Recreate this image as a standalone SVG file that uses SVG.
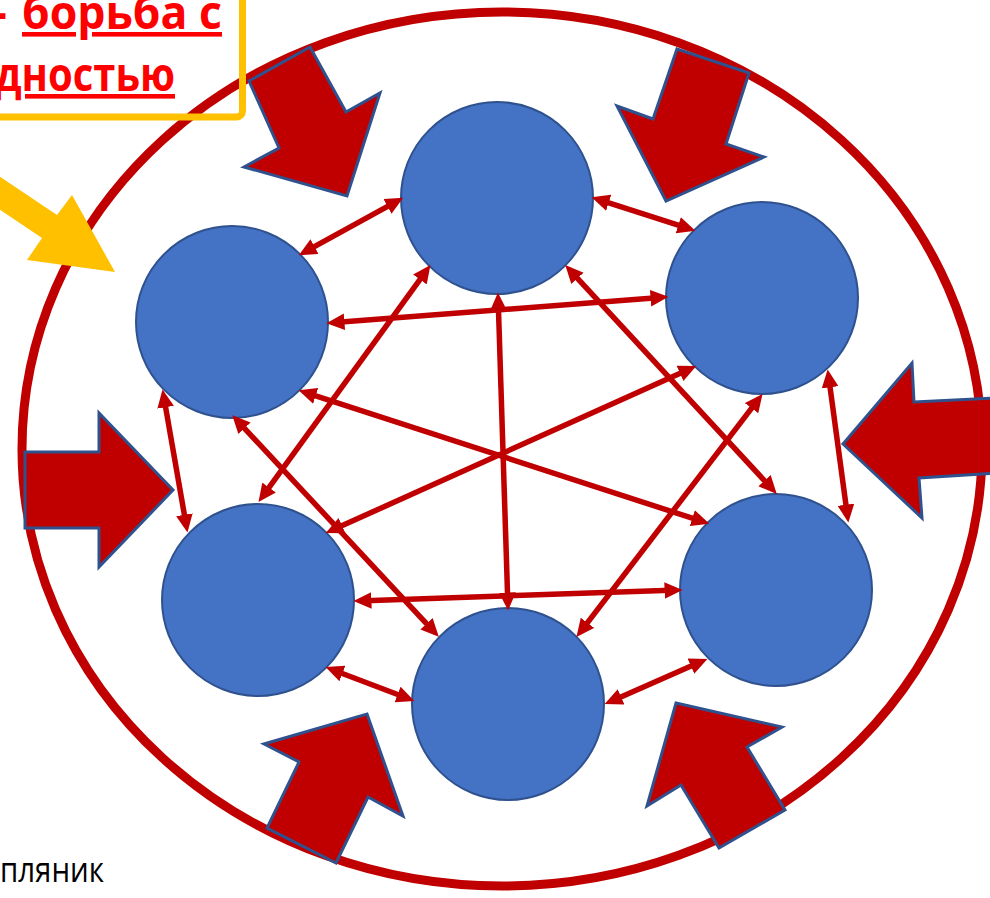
<svg xmlns="http://www.w3.org/2000/svg" width="990" height="898" viewBox="0 0 990 898">
<style>
.node{fill:#4472C4;stroke:#2F528F;stroke-width:2}
.con{stroke:#C00000;stroke-width:5.5;fill:none;marker-start:url(#ah);marker-end:url(#ah)}
.blk{fill:#C00000;stroke:#2F528F;stroke-width:3;stroke-linejoin:miter}
.t1{font-family:"Open Sans","Liberation Sans",Arial,sans-serif;font-weight:bold;font-size:46px;fill:#FF0000}
.u{text-decoration:underline}
.t2{font-family:"Open Sans","Liberation Sans",Arial,sans-serif;font-size:35px;fill:#000000}
</style>
<defs>
<marker id="ah" markerUnits="userSpaceOnUse" markerWidth="18" markerHeight="17" refX="5" refY="6.5" orient="auto-start-reverse" viewBox="0 0 14 13">
<path d="M0,0 L14,6.5 L0,13 z" fill="#C00000"/>
</marker>
</defs>
<rect width="990" height="898" fill="#FFFFFF"/>
<ellipse id="boundary" cx="502" cy="449" rx="480" ry="437" fill="none" stroke="#C00000" stroke-width="9"/>
<g id="n-top"><circle class="node" cx="497" cy="198" r="96"/></g>
<g id="n-ul"><circle class="node" cx="232" cy="322" r="96"/></g>
<g id="n-ur"><circle class="node" cx="762" cy="298" r="96"/></g>
<g id="n-ll"><circle class="node" cx="258" cy="600" r="96"/></g>
<g id="n-lr"><circle class="node" cx="776" cy="590" r="96"/></g>
<g id="n-bottom"><circle class="node" cx="508" cy="704" r="96"/></g>
<g id="connectors">
<line class="con" x1="393.1" y1="203.3" x2="308.9" y2="249.7"/>
<line class="con" x1="602.6" y1="200.8" x2="684.4" y2="227.2"/>
<line class="con" x1="338" y1="322.3" x2="657" y2="297.7"/>
<line class="con" x1="164.5" y1="400.9" x2="185.5" y2="521.1"/>
<line class="con" x1="829.2" y1="380.9" x2="846.8" y2="511.1"/>
<line class="con" x1="336.4" y1="671.2" x2="403.6" y2="696.8"/>
<line class="con" x1="696.8" y1="663.6" x2="615.2" y2="699.4"/>
<line class="con" x1="365" y1="600.7" x2="671" y2="590.3"/>
<line class="con" x1="498.3" y1="304" x2="507.7" y2="599"/>
<line class="con" x1="423.7" y1="274.3" x2="265.3" y2="492.7"/>
<line class="con" x1="573.1" y1="273.6" x2="768.9" y2="485.4"/>
<line class="con" x1="309.6" y1="393.8" x2="698.4" y2="520.2"/>
<line class="con" x1="240.1" y1="423.6" x2="430.9" y2="628.4"/>
<line class="con" x1="685.8" y1="370.7" x2="336.2" y2="528.3"/>
<line class="con" x1="755.5" y1="403.1" x2="583.5" y2="627.9"/>
</g>
<g id="pressure-arrows">
<polygon class="blk" points="249,81 310,47 346,112 380,93 347,196 244,167 279,148"/>
<polygon class="blk" points="677,49 749,73 726,144 764,157 666,201 617,106 653,119"/>
<polygon class="blk" points="843,444 912,363 914,402 996,398 996,473 919,478 922,518"/>
<polygon class="blk" points="25,452 99,452 99,413 173,490 99,567 99,528 25,528"/>
<polygon class="blk" points="367,714 403,816 368,797 336,863 267,828 299,762 264,744"/>
<polygon class="blk" points="676,703 782,727 747,747 785,810 719,848 681,785 647,806"/>
</g>
<g id="callout">
<rect x="-20" y="-20" width="262.5" height="137" rx="6" fill="none" stroke="#FFC000" stroke-width="7"/>
<text class="t1" x="-8" y="29">-</text>
<text class="t1 u" x="22" y="29" textLength="200" lengthAdjust="spacingAndGlyphs">борьба с</text>
<text class="t1 u" x="-5" y="91" textLength="180" lengthAdjust="spacingAndGlyphs">дностью</text>
<polygon points="-10,170 57,215 72,195 115,272 27,260 42,238 -10,203" fill="#FFC000"/>
</g>
<text class="t2" x="0" y="882" textLength="104" lengthAdjust="spacingAndGlyphs">пляник</text>
</svg>
